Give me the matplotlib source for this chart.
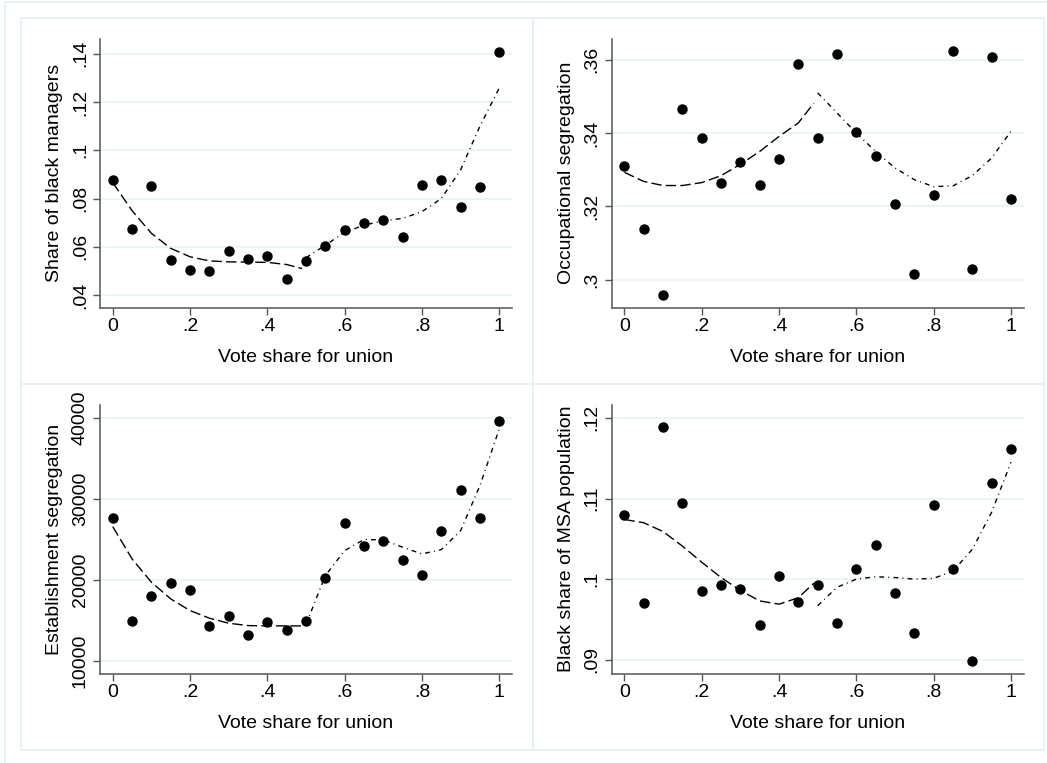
import matplotlib.pyplot as plt
from matplotlib.patches import Rectangle

plt.rcParams['font.family'] = ['Liberation Sans', 'DejaVu Sans']

# ---- data ----
vote = [0, .05, .1, .15, .2, .25, .3, .35, .4, .45, .5,
        .55, .6, .65, .7, .75, .8, .85, .9, .95, 1.0]

black_mgr = [.0876, .0675, .0852, .0544, .0505, .0502, .0581, .0551, .0562, .0468, .0540,
             .0602, .0668, .0700, .0711, .0643, .0858, .0879, .0765, .0847, .1408]
occ_seg = [.3311, .3138, .2958, .3467, .3386, .3264, .3322, .3259, .3330, .3590, .3387,
           .3617, .3402, .3337, .3206, .3016, .3230, .3623, .3030, .3608, .3220]
est_seg = [27590, 14970, 18050, 19650, 18750, 14350, 15550, 13240, 14760, 13780, 14970,
           20230, 27050, 24130, 24830, 22490, 20640, 25990, 31040, 27590, 39590]
msa_black = [.1079, .0971, .1189, .1095, .0985, .0993, .0988, .0943, .1004, .0972, .0993,
             .0946, .1012, .1042, .0983, .0933, .1092, .1013, .0898, .1119, .1162]

# fitted curves (left and right of the .5 threshold)
fit_left_x = [0, .05, .1, .15, .2, .25, .3, .35, .4, .45, .49]
fit_right_x = [.5, .55, .6, .65, .7, .75, .8, .85, .9, .95, 1.0]

mgr_fit_l = [.0866, .0750, .0656, .0594, .0559, .0542, .0538, .0537, .0536, .0527, .0510]
mgr_fit_r = [.0555, .0607, .0660, .0690, .0708, .0718, .0746, .0800, .0919, .1100, .1258]
occ_fit_l = [.3293, .3268, .3257, .3257, .3265, .3284, .3315, .3350, .3391, .3428, .3482]
occ_fit_r = [.3510, .3455, .3400, .3350, .3305, .3273, .3254, .3256, .3284, .3332, .3405]
est_fit_l = [26560, 22570, 19700, 17640, 16200, 15260, 14640, 14350, 14310, 14310, 14310]
est_fit_r = [14500, 20520, 23600, 24960, 24920, 24015, 23190, 23720, 26060, 31620, 38600]
msa_fit_l = [.1074, .1070, .1059, .1041, .1021, .1002, .0986, .0973, .0969, .0977, .0995]
msa_fit_r = [.0967, .0990, .1000, .1003, .1002, .1000, .1001, .1010, .1037, .1083, .1145]

x_ticks = [0, .2, .4, .6, .8, 1]
x_ticklabels = ['0', '.2', '.4', '.6', '.8', '1']

panels = [
    dict(y=black_mgr, fl=mgr_fit_l, fr=mgr_fit_r, ylabel='Share of black managers',
         ticks=[.04, .06, .08, .1, .12, .14], labels=['.04', '.06', '.08', '.1', '.12', '.14'],
         ylim=(.0349, .1461)),
    dict(y=occ_seg, fl=occ_fit_l, fr=occ_fit_r, ylabel='Occupational segregation',
         ticks=[.30, .32, .34, .36], labels=['.3', '.32', '.34', '.36'],
         ylim=(.2924, .3657)),
    dict(y=est_seg, fl=est_fit_l, fr=est_fit_r, ylabel='Establishment segregation',
         ticks=[10000, 20000, 30000, 40000], labels=['10000', '20000', '30000', '40000'],
         ylim=(8440, 41560)),
    dict(y=msa_black, fl=msa_fit_l, fr=msa_fit_r, ylabel='Black share of MSA population',
         ticks=[.09, .10, .11, .12], labels=['.09', '.1', '.11', '.12'],
         ylim=(.0883, .1216)),
]

W, H = 1047, 763
fig = plt.figure(figsize=(W / 100, H / 100), dpi=100)
fig.patch.set_facecolor('white')

frame_col = '#e8f0f2'
grid_col = '#eaf2f3'
axis_col = '#555555'

# outer frame and panel frames (pixel coords)
def px_rect(x0, y0, x1, y1, **kw):
    r = Rectangle((x0 / W, 1 - y1 / H), (x1 - x0) / W, (y1 - y0) / H,
                  transform=fig.transFigure, fill=False, **kw)
    fig.patches.append(r)

px_rect(5, 2, 1060, 780, edgecolor=frame_col, lw=1.2)
pw, ph = 511.7, 366
for i in range(4):
    ox = 21 + (i % 2) * pw
    oy = 18 + (i // 2) * ph
    px_rect(ox, oy, ox + pw, oy + ph, edgecolor=frame_col, lw=1.2)

# axes boxes inside each panel
ax_l, ax_r, ax_t, ax_b = 100, 512, 39, 307.5
for i, p in enumerate(panels):
    dx = (i % 2) * pw
    dy = (i // 2) * ph
    ax = fig.add_axes([(ax_l + dx) / W, 1 - (ax_b + dy) / H,
                       (ax_r - ax_l) / W, (ax_b - ax_t) / H])
    ax.set_xlim(-.033, 1.033)
    ax.set_ylim(*p['ylim'])

    for t in p['ticks']:
        ax.axhline(t, color=grid_col, lw=1.2, zorder=0)

    ax.plot(vote, p['y'], 'o', color='black', ms=6.5, zorder=3)
    ax.plot(fit_left_x, p['fl'], color='black', lw=1.0, ls=(0, (7.5, 3)), zorder=2)
    ax.plot(fit_right_x, p['fr'], color='black', lw=1.0, ls=(0, (3.5, 3, 0.7, 3)), zorder=2)

    ax.spines['top'].set_visible(False)
    ax.spines['right'].set_visible(False)
    for s in ['left', 'bottom']:
        ax.spines[s].set_color(axis_col)
        ax.spines[s].set_linewidth(1.1)

    ax.set_xticks(x_ticks)
    ax.set_xticklabels(x_ticklabels)
    ax.set_yticks(p['ticks'])
    ax.set_yticklabels(p['labels'], rotation=90, va='center')
    ax.tick_params(axis='both', color=axis_col, length=5, width=1.0,
                   labelsize=14, labelcolor='black')
    ax.tick_params(axis='x', pad=2.5)
    ax.tick_params(axis='y', pad=3)

    ax.set_xlabel('Vote share for union', fontsize=14)
    ax.set_ylabel(p['ylabel'], fontsize=14, va='center')
    ax.xaxis.set_label_coords(0.5, -(349 - ax_b) / (ax_b - ax_t))
    ax.yaxis.set_label_coords(-(100 - 55) / (ax_r - ax_l), 0.5)

fig.savefig('out.png', dpi=100)
